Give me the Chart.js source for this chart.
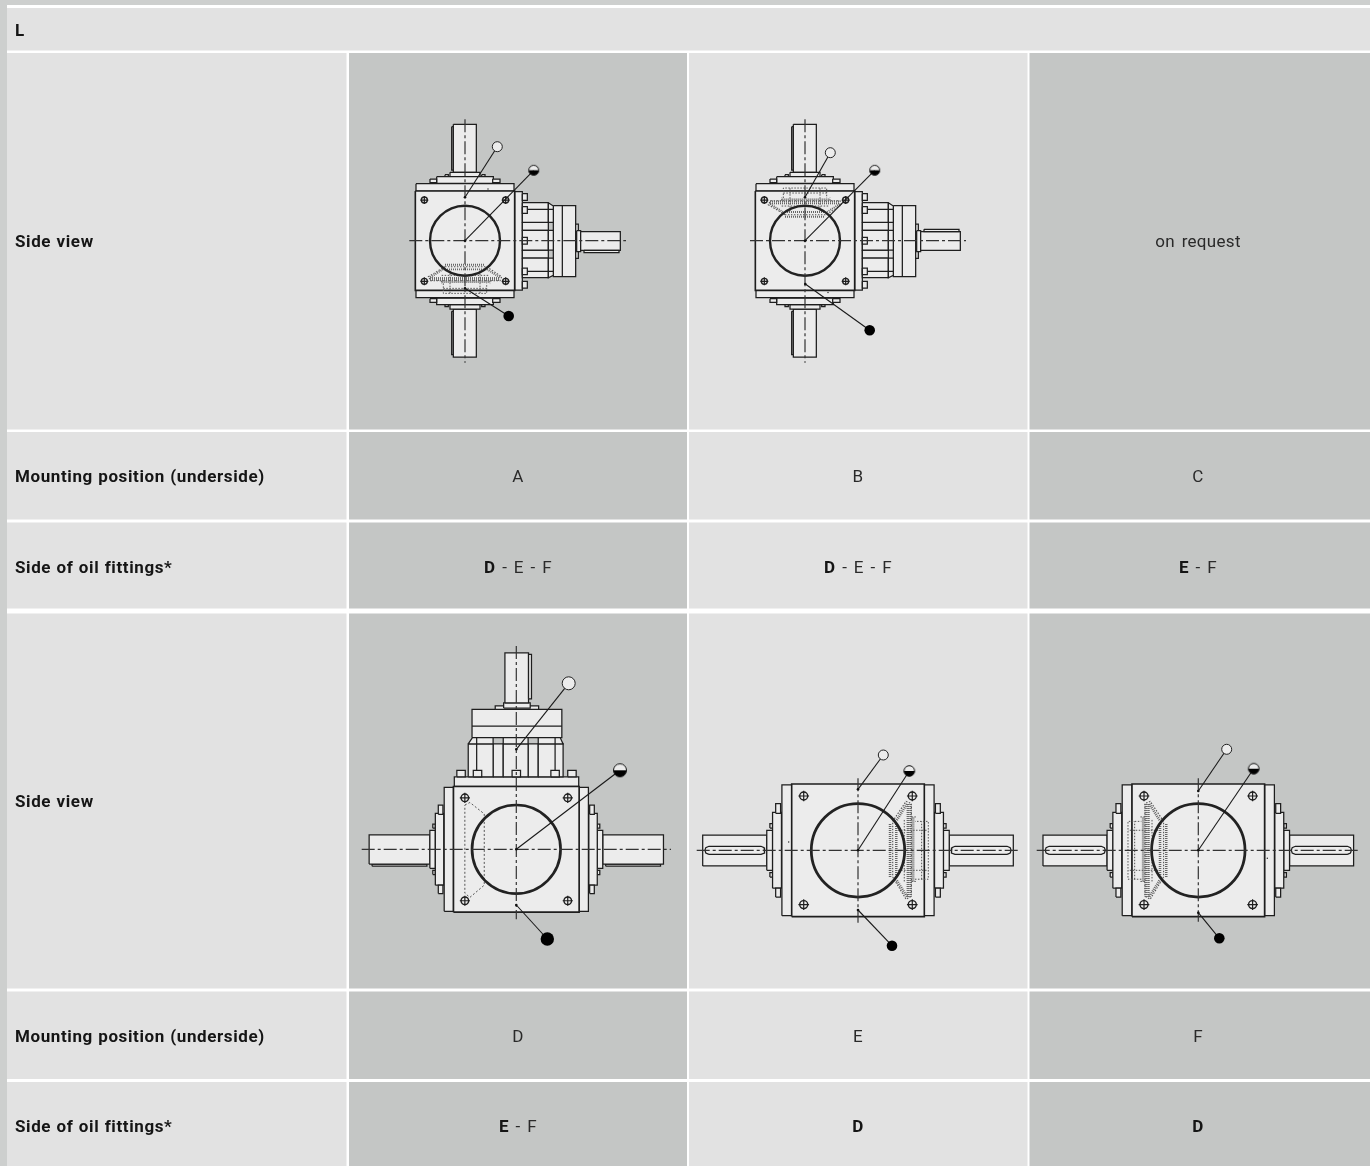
<!DOCTYPE html>
<html><head><meta charset="utf-8">
<style>html,body{margin:0;padding:0;background:#fff;overflow:hidden}canvas{display:block}</style>
<script src="https://cdn.jsdelivr.net/npm/chart.js@4"></script>
</head><body><canvas id="c" width="1370" height="1166"></canvas>
<script>
// ---------- table data ----------
const colEdges=[[7,346.5],[349,687],[689,1027.5],[1029.5,1370]];
const rowEdges=[[53,429.5],[432,519.5],[522.5,608.5],[613.5,988.5],[991.5,1079],[1082,1166]];
const headerEdge=[8,50.5];
const colShades=['#e2e2e2','#c4c6c5','#e2e2e2','#c4c6c5'];
const headerText='L';
const rowLabels=['Side view','Mounting position (underside)','Side of oil fittings*','Side view','Mounting position (underside)','Side of oil fittings*'];
const rowTextY=[243,477.5,568.5,802.5,1037.5,1127.5];
const colCentres=[518,858,1198];
const cellRows=[
 [[['on request',false]],2,0],
 [[['A',false]],0,1],[[['B',false]],1,1],[[['C',false]],2,1],
 [[['D',true],[' - E - F',false]],0,2],[[['D',true],[' - E - F',false]],1,2],[[['E',true],[' - F',false]],2,2],
 [[['D',false]],0,4],[[['E',false]],1,4],[[['F',false]],2,4],
 [[['E',true],[' - F',false]],0,5],[[['D',true]],1,5],[[['D',true]],2,5]
];

// ---------- drawing data: gearbox parts, in 1/3 px units from the bore centre ----------
const shaftBlocks=[
 [-40,-342,-35,-212],[-35,-349,34,-205],[-45,-205,45,-192],[-60,-198,-50,-192],[50,-198,60,-192],[-85,-192,85,-172],[-105,-185,-85,-174],[83,-185,105,-174],
 [-40,212,-35,342],[-35,205,34,349],[-45,192,45,205],[-60,192,-50,198],[50,192,60,198],[-85,172,85,192],[-105,174,-85,185],[83,174,105,185]
];
const keylessShaftBlocks=shaftBlocks.filter(r=>Math.abs(r[1])!==342 && Math.abs(r[1])!==212);
const plateBlocks=[[-147,-171,147,-149],[-147,149,147,171]];
const bodyBlock=[-149,-149,149,149];
const housingBlocks=[[149,-147,172,148],
 [172,-55,250,-31],[172,28,250,52],[172,-114,250,-55],[172,-31,250,28],[172,52,250,111],[265,-105,332,108],[332,-50,340,53],[335,-30,347,33],[347,-27,466,29],
 [172,-141,187,-121],[172,-102,187,-82],[172,-10,187,10],[172,82,187,102],[172,122,187,142]];
const housingWebs=[[[250,-114],[265,-104],[265,-55],[250,-55]],[[250,-31],[265,-31],[265,28],[250,28]],[[250,52],[265,52],[265,104],[250,111]]];
const housingLines=[[[292,-105],[292,108]],[[187,-94],[265,-94]],[[187,92],[265,92]]];
const keyDown=[357,29,462,36];
const keyUp=[357,-34,462,-27];
const slotTop=[[-9,-335],[-6,-342],[0,-344],[6,-342],[9,-335],[9,-218],[6,-211],[0,-209],[-6,-211],[-9,-218],[-9,-335]];
const slotBottom=[[-9,335],[-6,342],[0,344],[6,342],[9,335],[9,218],[6,211],[0,209],[-6,211],[-9,218],[-9,335]];
const boltSpots=[[-122,-122],[122,-122],[-122,122],[122,122]];
const gearOutline=[[-60,78],[-110,108],[-103,120],[105,120],[110,108],[65,78]];
const gearThinLines=[[[-45,90],[-45,158]],[[45,90],[45,158]],[[-70,120],[-70,130]],[[75,120],[75,130]],[[-65,128],[-65,158],[65,158],[65,128]],[[-65,143],[65,143]],[[-70,104],[70,104]]];
const gearTeeth=[[[-60,72],[60,72]],[[-60,86],[60,86]],[[-104,110],[-66,86]],[[104,110],[66,86]],[[-105,112],[105,112]],[[-105,118],[105,118]],[[-70,124],[75,124]]];
const thinGearOutline=[[105,-122],[111,-110],[84,-76],[-85,-76],[-114,-110],[-104,-122],[105,-122]];

// ---------- drawing data: the six views ----------
const viewCentres=[[465,240.7],[805,240.7],[516.3,849.3],[858,850.3],[1198.3,850.3]];
const viewScales=[1,1,1.265,1.335,1.335];
const viewRotated=[false,false,true,true,true];
const centreLineX=[[409.3,626],[750,966],[361.7,671],[696.7,1020],[1036.7,1360]];
const centreLineY=[[119.3,362.7],[119.3,362.7],[646,919.3],[778.3,922.7],[778.3,921.7]];
const openMarkers=[[497.3,146.7,5,465,197.3],[830.3,152.7,5,805,197.3],[568.7,683.3,6.5,516.3,749.3],[883.3,755,5,858,789.3],[1226.7,749.3,5,1198.3,791]];
const halfMarkers=[[533.7,170.3,5,465,240.7],[874.7,170.3,5,805,240.7],[620,770.3,6.5,516.3,849.3],[909.3,771,5.3,858,850.3],[1253.7,768.7,5.3,1198.3,850.3]];
const solidMarkers=[[508.7,316,5.3,465,288.3],[869.7,330.3,5.3,805.3,284],[547.3,939,6.7,516.3,905],[892,945.7,5.3,858,910],[1219.3,938.3,5.3,1198.3,912.7]];
const strayDots=[[488,189],[828,292.5],[788.7,842],[1267.3,858.3]];

// ---------- build datasets ----------
const ink='#1e1e1e', metal='#ececec';
const sets=[];
function add(ds){ds.order=-sets.length;sets.push(ds);}
function shape(pts,fill,o={}){
 add({type:'scatter',showLine:true,data:pts.map(p=>({x:p[0],y:p[1]})),pointRadius:0,tension:0,
  borderColor:o.color||ink,borderWidth:o.width===undefined?1:o.width,borderDash:o.dash||[],
  backgroundColor:fill||'transparent',fill:fill?'shape':false});
}
function mark(x,y,r,o={}){
 add({type:'scatter',data:[{x,y}],pointRadius:r,pointStyle:o.style||'circle',pointBackgroundColor:o.bg||'transparent',
  pointBorderColor:o.color||ink,pointBorderWidth:o.width===undefined?1:o.width,pointHoverRadius:r});
}
function rectPts(r){return [[r[0],r[1]],[r[2],r[1]],[r[2],r[3]],[r[0],r[3]],[r[0],r[1]]];}
// cells
shape(rectPts([0,0,7,1166]),'#cdcfce',{width:0});
shape(rectPts([0,0,1370,5]),'#cdcfce',{width:0});
shape(rectPts([7,headerEdge[0],1370,headerEdge[1]]),'#e2e2e2',{width:0});
rowEdges.forEach(re=>colEdges.forEach((ce,i)=>shape(rectPts([ce[0],re[0],ce[1],re[1]]),colShades[i],{width:0})));

function halfImage(r){
 const cv=document.createElement('canvas'),d=Math.ceil(2*r+3);cv.width=d;cv.height=d;
 const g=cv.getContext('2d'),m=d/2;
 g.fillStyle=metal;g.beginPath();g.arc(m,m,r,Math.PI,0);g.fill();
 g.fillStyle='#000';g.beginPath();g.arc(m,m,r,0,Math.PI);g.fill();
 g.strokeStyle='#111';g.lineWidth=1;g.beginPath();g.arc(m,m,r,0,Math.PI*2);g.stroke();
 return cv;
}
function drawView(i,opt){
 const [cx,cy]=viewCentres[i],s=viewScales[i],rot=viewRotated[i];
 const T=p=>{const X=rot?p[1]:p[0],Y=rot?-p[0]:p[1];return [cx+X*s/3,cy+Y*s/3];};
 const part=(pts,fill,o={})=>shape(pts.map(T),fill,o);
 const lw=1.25;
 (opt.slots?keylessShaftBlocks:shaftBlocks).forEach(r=>part(rectPts(r),metal,{width:lw}));
 plateBlocks.forEach(r=>part(rectPts(r),metal,{width:lw}));
 if(opt.housing){
  housingBlocks.forEach(r=>part(rectPts(r),metal,{width:lw}));
  housingWebs.forEach(w=>part(w.concat([w[0]]),metal,{width:lw}));
  housingLines.forEach(l=>part(l,null,{width:lw}));
  if(opt.key) part(rectPts(opt.key),metal,{width:lw});
 }
 part(rectPts(bodyBlock),metal,{width:lw*1.3});
 if(opt.slots){part(slotTop,metal,{width:lw});part(slotBottom,metal,{width:lw});}
 // hidden gear
 if(opt.gear){
  const f=p=>[p[0],p[1]*opt.gear];
  part(gearOutline.concat([gearOutline[0]]).map(f),null,{dash:[1.5,1.5],color:'#555',width:1.1});
  gearThinLines.forEach(l=>part(l.map(f),null,{dash:[1.5,1.5],color:'#555',width:1}));
  gearTeeth.forEach(l=>part(l.map(f),null,{dash:[1,1],color:'#666',width:1.9*s}));
 }
 if(opt.thinGear) part(thinGearOutline,null,{dash:[2,2],color:'#555',width:1});
 // bolts
 boltSpots.forEach(p=>{const q=T(p);mark(q[0],q[1],3*s,{width:1.4});mark(q[0],q[1],4*s,{style:'cross',width:1.2});});
 // bore ring
 mark(cx,cy,35*s,{width:2.4*Math.sqrt(s),color:'#222'});
 // centre lines
 const cl={dash:[13,3,3,3],color:'#333',width:1.2};
 shape([[centreLineX[i][0],cy],[centreLineX[i][1],cy]],null,cl);
 shape([[cx,centreLineY[i][0]],[cx,centreLineY[i][1]]],null,cl);
 // leaders & markers
 const o=openMarkers[i],h=halfMarkers[i],b=solidMarkers[i];
 [o,h,b].forEach(m=>{shape([[m[0],m[1]],[m[3],m[4]]],null,{color:'#1a1a1a',width:1.1});mark(m[3],m[4],1.3,{bg:'#111',color:'#111',width:0});});
 mark(o[0],o[1],o[2],{bg:metal,color:'#222',width:1});
 mark(h[0],h[1],h[2],{style:halfImage(h[2])});
 mark(b[0],b[1],b[2],{bg:'#000',color:'#000',width:0});
}
drawView(0,{housing:true,key:keyDown,gear:1});
drawView(1,{housing:true,key:keyUp,gear:-1});
drawView(2,{housing:true,key:keyDown,thinGear:true});
drawView(3,{slots:true,gear:1});
drawView(4,{slots:true,gear:-1});
strayDots.forEach(p=>mark(p[0],p[1],0.7,{bg:'#222',color:'#222',width:0}));

// ---------- text through the chart scales ----------
const textPlugin={id:'tableText',afterDatasetsDraw(ch){
 const g=ch.ctx,X=ch.scales.x,Y=ch.scales.y;
 g.save();g.textBaseline='middle';g.fillStyle='#151515';
 const bold='700 17px Roboto',reg='400 17px Roboto';
 g.letterSpacing='0.6px';g.wordSpacing='0.6px';
 g.font=bold;g.textAlign='left';
 g.fillText(headerText,X.getPixelForValue(15),Y.getPixelForValue(31.5));
 rowLabels.forEach((t,i)=>g.fillText(t,X.getPixelForValue(15),Y.getPixelForValue(rowTextY[i])));
 g.letterSpacing='0.3px';g.wordSpacing='2.2px';
 cellRows.forEach(([runs,c,r])=>{
  let w=0;runs.forEach(([t,b])=>{g.font=b?bold:reg;w+=g.measureText(t).width;});
  let x=X.getPixelForValue(colCentres[c])-w/2;
  runs.forEach(([t,b])=>{g.font=b?bold:reg;g.fillStyle=b?'#151515':'#2a2a2a';g.fillText(t,x,Y.getPixelForValue(rowTextY[r]));x+=g.measureText(t).width;});
 });
 g.restore();
}};
new Chart(document.getElementById('c'),{
 type:'scatter',data:{datasets:sets},plugins:[textPlugin],
 options:{responsive:false,animation:false,events:[],layout:{padding:0,autoPadding:false},
  plugins:{legend:{display:false},tooltip:{enabled:false}},
  scales:{x:{type:'linear',min:0,max:1370,display:false},y:{type:'linear',min:0,max:1166,reverse:true,display:false}}}
});
</script></body></html>
